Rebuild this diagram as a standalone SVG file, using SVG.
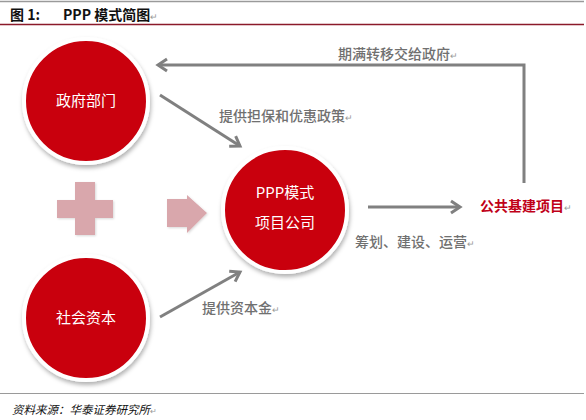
<svg xmlns="http://www.w3.org/2000/svg" width="586" height="420" viewBox="0 0 586 420">
<defs>
<style>
.circ{fill:#c9000f;stroke:#ffffff;stroke-width:4;filter:url(#sh)}
.ctext{font-family:"Noto Sans CJK SC","Noto Sans",sans-serif;font-size:15px;fill:#ffffff;text-anchor:middle}
.lbl{font-family:"Noto Sans CJK SC","Noto Sans",sans-serif;font-size:14px;fill:#707070;font-weight:500}
.ret{font-size:9px;fill:#999999;font-weight:400}
.conn{stroke:#808080;stroke-width:3;fill:none}
.shape{fill:#d9a7ac;filter:url(#sh2)}
</style>
<filter id="sh" x="-20%" y="-20%" width="140%" height="140%">
<feDropShadow dx="1" dy="3" stdDeviation="2" flood-color="#000" flood-opacity="0.3"/>
</filter>
<filter id="sh2" x="-20%" y="-20%" width="140%" height="140%">
<feDropShadow dx="1" dy="1" stdDeviation="1" flood-color="#000" flood-opacity="0.15"/>
</filter>
<marker id="ah" markerUnits="userSpaceOnUse" markerWidth="16" markerHeight="16" refX="12" refY="8" orient="auto" viewBox="0 0 16 16">
<path d="M3,2 L12,8 L3,14" fill="none" stroke="#808080" stroke-width="3"/>
</marker>
</defs>
<rect width="586" height="420" fill="#ffffff"/>
<g id="header">
<line x1="0" y1="1.5" x2="584" y2="1.5" stroke="#9a9a9a" stroke-width="1.5"/>
<text x="10" y="20" font-family="Noto Sans CJK SC,sans-serif" font-size="14" font-weight="bold" fill="#111">图 1:</text>
<text x="63" y="20" font-family="Noto Sans CJK SC,sans-serif" font-size="14" font-weight="bold" fill="#111">PPP 模式简图<tspan font-size="9" fill="#999" font-weight="normal">↵</tspan></text>
<line x1="0" y1="24.5" x2="584" y2="24.5" stroke="#8b1a2a" stroke-width="1.5"/>
</g>
<g id="connectors">
<polyline class="conn" points="524,183 524,65 158,65" marker-end="url(#ah)"/>
<line class="conn" x1="160" y1="95" x2="240" y2="146" marker-end="url(#ah)"/>
<line class="conn" x1="160" y1="317" x2="240" y2="272" marker-end="url(#ah)"/>
<line class="conn" x1="368" y1="207" x2="460" y2="207" marker-end="url(#ah)"/>
</g>
<g id="plus"><path class="shape" d="M75,182 H95 V200 H113 V218 H95 V235 H75 V218 H57 V200 H75 Z"/></g>
<g id="arrowshape"><path class="shape" d="M167,199 H187 V195 L207,213 L187,233 V227 H167 Z"/></g>
<g id="node-gov">
<circle class="circ" cx="86" cy="101" r="62"/>
<text class="ctext" x="86" y="106">政府部门</text>
</g>
<g id="node-ppp">
<circle class="circ" cx="285" cy="210" r="62"/>
<text class="ctext" x="285" y="198">PPP模式</text>
<text class="ctext" x="285" y="228">项目公司</text>
</g>
<g id="node-social">
<circle class="circ" cx="86" cy="318" r="62"/>
<text class="ctext" x="86" y="323">社会资本</text>
</g>
<g id="node-project">
<text x="480" y="211" font-family="Noto Sans CJK SC,sans-serif" font-size="14" font-weight="bold" fill="#c00018">公共基建项目<tspan class="ret" font-family="Noto Sans CJK SC,sans-serif">↵</tspan></text>
</g>
<g id="labels">
<text class="lbl" x="338" y="59">期满转移交给政府<tspan class="ret">↵</tspan></text>
<text class="lbl" x="219" y="121">提供担保和优惠政策<tspan class="ret">↵</tspan></text>
<text class="lbl" x="355" y="247">筹划、建设、运营<tspan class="ret">↵</tspan></text>
<text class="lbl" x="202" y="313">提供资本金<tspan class="ret">↵</tspan></text>
</g>
<g id="footer">
<line x1="0" y1="393.5" x2="584" y2="393.5" stroke="#9a9a9a" stroke-width="1.2"/>
<text x="12" y="414" font-family="Noto Sans CJK SC,sans-serif" font-size="11.5" font-style="italic" fill="#111">资料来源：华泰证券研究所<tspan font-size="8" fill="#999" font-style="normal">↵</tspan></text>
</g>
</svg>
